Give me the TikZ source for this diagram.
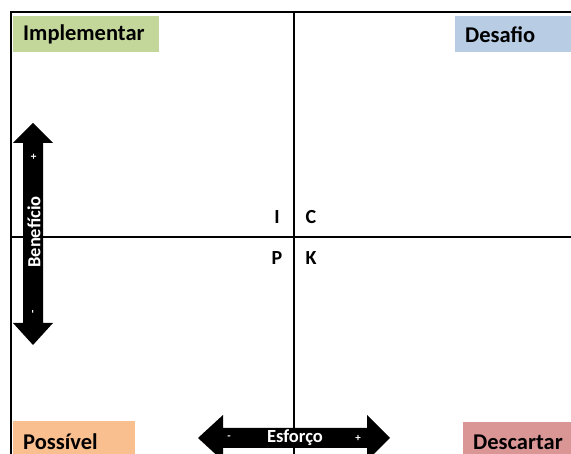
\documentclass[tikz,border=0pt]{standalone}
\usepackage{fontspec}
\setmainfont{Carlito}
\usepackage{tikz}

\definecolor{implcol}{HTML}{C4D79B}
\definecolor{desafiocol}{HTML}{B8CCE4}
\definecolor{possivelcol}{HTML}{FABF8F}
\definecolor{descartcol}{HTML}{DA9694}

\tikzset{
    tag/.style={anchor=north west, minimum height=36pt, inner xsep=10pt,
        align=left, font=\fontsize{22.5}{25}\selectfont\bfseries},
    letter/.style={font=\fontsize{20}{23}\selectfont\bfseries},
    axistext/.style={text=white, font=\fontsize{18.5}{21}\selectfont\bfseries},
    sign/.style={text=white, font=\fontsize{11}{13}\selectfont\bfseries}
}

\begin{document}
\begin{tikzpicture}[x=1pt, y=1pt]
        \useasboundingbox (0,0) rectangle (571,454);
        % frame and quadrants
        \draw[line width=2pt] (11,0) -- (11,442) -- (580,442);
        \draw[line width=1.6pt] (294,0) -- (294,442);
        \draw[line width=1.6pt] (11,217) -- (580,217);
        % corner labels
        \node[tag, fill=implcol, text width=126pt] (impl) at (13,438) {Implementar};
        \node[tag, fill=desafiocol, text width=126pt] (desafio) at (455,438) {Desafio};
        \node[tag, fill=possivelcol, text width=102pt, minimum height=41pt] (possivel) at (13,33) {Possível};
        \node[tag, fill=descartcol, text width=126pt, minimum height=41pt] (descartar) at (463,32) {Descartar};
        % centre letters
        \node[letter] (i) at (277,237) {I};
        \node[letter] (c) at (311,237) {C};
        \node[letter] (p) at (277,196) {P};
        \node[letter] (k) at (311,196) {K};
        % benefit arrow
        \fill (33,331) -- (53,311) -- (43,311) -- (43,131) -- (53,131) -- (33,109)
            -- (13,131) -- (23,131) -- (23,311) -- (13,311) -- cycle;
        \node[axistext, rotate=90] (beneficio) at (34,222) {Benefício};
        \node[sign, rotate=90] (bplus) at (34,297) {+};
        \node[sign, rotate=90] (bminus) at (34,142) {-};
        % effort arrow
        \fill (198,16) -- (223,39) -- (223,26) -- (367,26) -- (367,39) -- (390,16)
            -- (367,-7) -- (367,6) -- (223,6) -- (223,-7) -- cycle;
        \node[axistext] (esforco) at (295,16) {Esforço};
        \node[sign] (eminus) at (229,16) {-};
        \node[sign] (eplus) at (358,16) {+};
        \end{tikzpicture}
\end{document}
